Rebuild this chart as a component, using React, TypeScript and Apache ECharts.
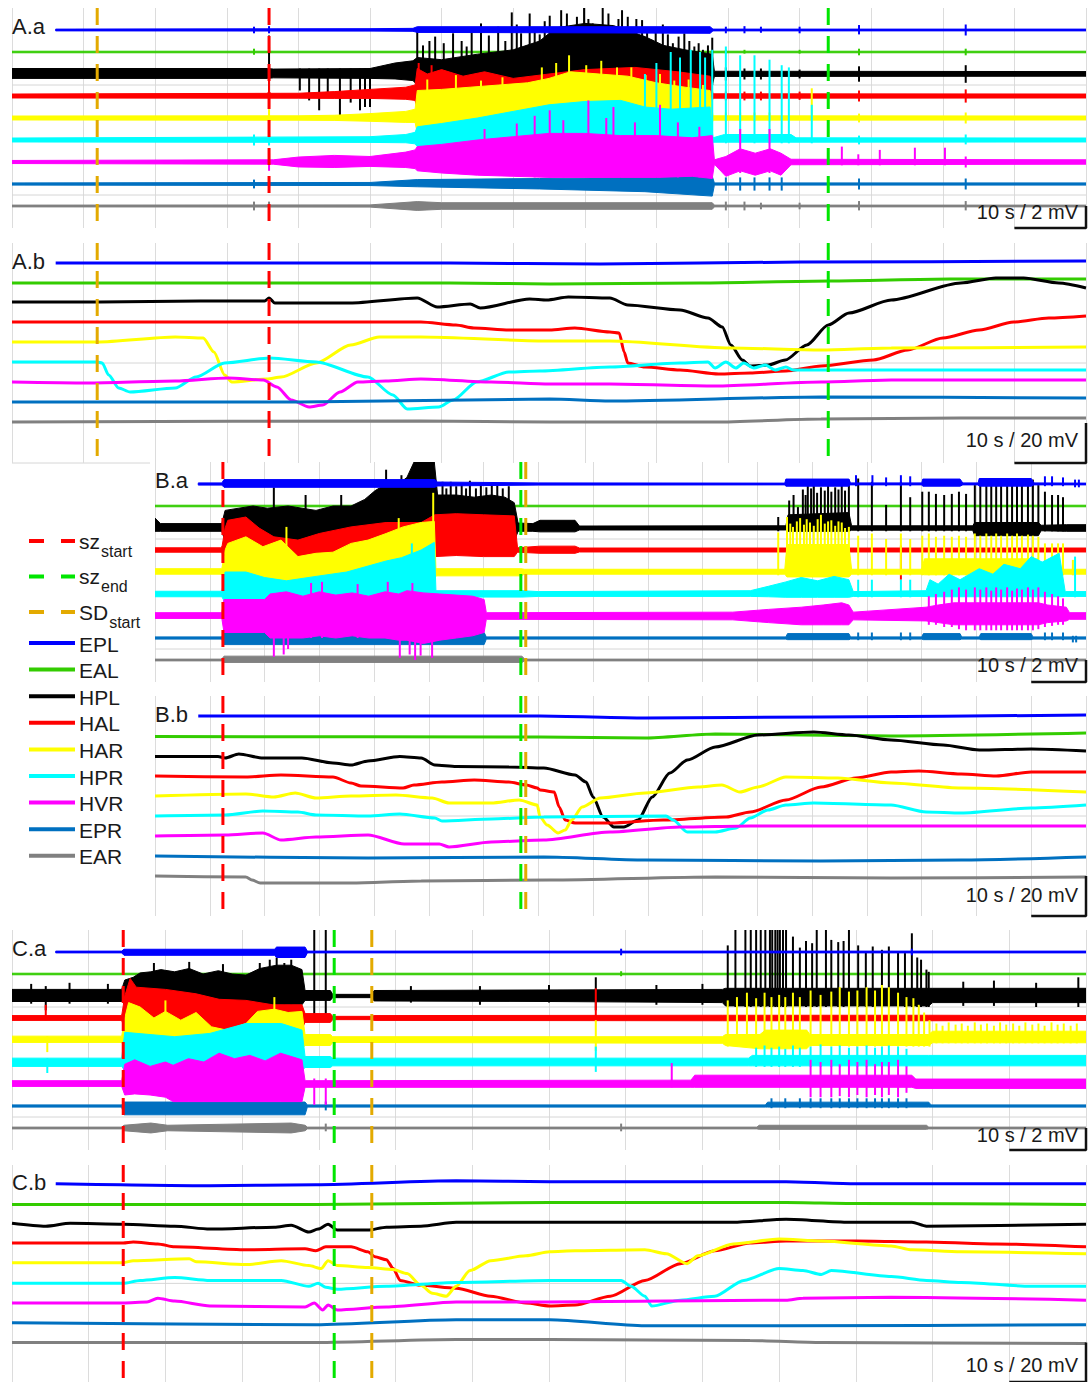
import React, { useEffect, useRef } from "react";
import * as echarts from "echarts";

// ---------------------------------------------------------------------------
// Channels (top to bottom) and their colours
// ---------------------------------------------------------------------------
const CHANNELS = ["EPL", "EAL", "HPL", "HAL", "HAR", "HPR", "HVR", "EPR", "EAR"];
const CHANNEL_COLORS = ["#0000ff", "#33cc00", "#000000", "#ff0000", "#ffff00", "#00ffff", "#ff00ff", "#0070c0", "#808080"];

// Event markers: seizure start, seizure end, spreading depolarisation start
const EVENT_MAIN = ["sz", "sz", "SD"];
const EVENT_SUB = ["start", "end", "start"];
const EVENT_COLORS = ["#ff0000", "#00e600", "#e3aa00"];

// event times in seconds: [sz start, sz end, SD start]
const A_EVENTS = [35.9, 114.0, 11.9];
const B_EVENTS = [12.4, 66.8, 67.7];
const C_EVENTS = [14.5, 42.0, 46.9];

// ---------------------------------------------------------------------------
// AC-coupled recordings: envelope rows [t (s), low (mV), high (mV)] relative to
// the channel baseline, plus single spikes [t, low, high]
// ---------------------------------------------------------------------------
// ---- A.a ----
const A_AC_EPL = [[6.1,-0.08,0.08],[50,-0.1,0.12],[56.0,-0.12,0.15],[56.6,-0.22,0.3],[75,-0.25,0.3],[97.5,-0.3,0.3],[97.9,-0.08,0.08],[150,-0.08,0.08]];
const A_AC_EPL_SPK = [[33.8,-0.3,0.3],[35.9,-0.3,0.35],[99.7,-0.3,0.3],[102.3,-0.3,0.35],[104.6,-0.25,0.3],[110.0,-0.3,0.3],[118.3,-0.4,0.45],[133.2,-0.5,0.5]];
const A_AC_EAL = [[0,-0.07,0.07],[150,-0.07,0.07]];
const A_AC_EAL_SPK = [[33.8,-0.25,0.3],[35.9,-0.2,0.5],[99.7,-0.15,0.2],[102.3,-0.15,0.2],[110.0,-0.15,0.2],[118.3,-0.3,0.3],[133.2,-0.3,0.3]];
const A_AC_HPL = [[0,-0.4,0.5],[35.7,-0.4,0.5],[36.5,-0.35,0.45],[50,-0.4,0.5],[53.5,-0.45,1.0],[56.0,-0.6,1.2],[56.6,-1,1.5],[60,-1,1.3],[65,-1,1.8],[70,-1,2.2],[73.7,-1,3.0],[76,-1,4.2],[80,-1,4.6],[84,-1,4.4],[88.4,-1,3.4],[91,-1,2.6],[94,-1,2.2],[97.8,-1,1.8],[98.1,-0.22,0.25],[150,-0.2,0.22]];
const A_AC_HPL_SPK = [[35.9,-2.0,3.5],[40.2,-1.5,0.5],[41.5,-2.4,0.5],[42.9,-3.3,0.5],[44.1,-2.1,0.5],[45.8,-3.9,0.5],[47.3,-2.6,0.5],[48.6,-3.3,0.5],[49.3,-3.0,0.5],[50.0,-3.0,0.5],
  [56.6,-1,4.0],[57.4,-1,2.6],[58.3,-1,3.0],[59.1,-1,3.4],[60.3,-1,2.8],[61.6,-1,3.7],[62.8,-1,3.0],[63.5,-1,2.5],[64.2,-1,4.0],[65.5,-1,4.6],[66.6,-1,3.5],[67.9,-1,4.3],[68.9,-1,3.0],[69.8,-1,5.6],[70.5,-1,4.5],[71.1,-1,3.7],[72.3,-1,5.5],[73.0,-1,4.0],[73.7,-1,3.6],[74.4,-1,4.8],[75.1,-1,5.3],[75.8,-1,4.2],[76.7,-1,5.8],[77.5,-1,5.5],[78.2,-1,4.4],[78.9,-1,5.2],[79.9,-1,6.0],[80.5,-1,5.0],[81.1,-1,4.6],[82.5,-1,6.0],[83.3,-1,5.5],[84.1,-1,4.3],[84.7,-1,5.0],[85.2,-1,5.8],[86.0,-1,5.2],[86.5,-1,4.0],[87.2,-1,5.0],[88.0,-1,4.9],[88.7,-1,4.2],[89.4,-1,3.1],[89.9,-1,4.0],[90.9,-1,4.5],[91.6,-1,3.6],[92.3,-1,2.8],[93.1,-1,3.4],[93.9,-1,3.7],[94.6,-1,3.0],[95.3,-1,2.5],[95.9,-1,2.8],[96.5,-1,2.2],[97.2,-1,2.6],[97.8,-1,3.3],
  [99.7,-0.6,0.6],[102.3,-0.5,0.5],[104.6,-0.5,0.5],[110.0,-0.4,0.4],[118.3,-0.7,0.7],[133.2,-0.8,0.8]];
const A_AC_HAL = [[0,-0.18,0.18],[40,-0.2,0.25],[45,-0.22,0.4],[50,-0.22,0.6],[55,-0.3,0.8],[56.3,-0.4,1.0],[56.6,-1.3,2.5],[58,-1.3,2.0],[60,-1.3,2.4],[63,-1.3,1.8],[66,-1.3,2.2],[70,-1.3,1.6],[75,-1.3,2.0],[80,-1.3,2.4],[87,-1.3,2.6],[93,-1.3,2.2],[97.5,-1.3,1.8],[97.9,-0.2,0.2],[150,-0.18,0.18]];
const A_AC_HAL_SPK = [[35.9,-1.0,2.0],[56.8,-1.3,3.0],[58.6,-1.3,2.8],[99.7,-0.4,0.4],[102.3,-0.4,0.4],[104.6,-0.4,0.4],[110.0,-0.35,0.4],[118.3,-0.5,0.5],[133.2,-0.6,0.6]];
const A_AC_HAR = [[0,-0.18,0.18],[40,-0.2,0.2],[45,-0.22,0.25],[50,-0.3,0.4],[55,-0.4,0.6],[56.3,-0.4,0.8],[56.6,-1.4,2.5],[60,-1.4,2.6],[64,-1.4,2.8],[68,-1.4,3.0],[72,-1.4,3.2],[75,-1.4,3.6],[78,-1.4,4.2],[82,-1.4,4.0],[86,-1.4,3.8],[90,-1.4,3.2],[94,-1.4,2.8],[97.5,-1.4,2.5],[97.9,-0.2,0.2],[150,-0.18,0.18]];
const A_AC_HAR_SPK = [[35.9,-0.5,0.8],[58,-1,3.5],[62,-1,3.9],[65.5,-1,3.4],[68.5,-1,3.7],[74,-1,4.6],[76,-1,5.0],[77.8,-1,5.7],[80.2,-1,4.8],[82.3,-1,5.2],[84.5,-1,4.6],[86.5,-1,4.6],[88.5,-1,3.9],[90.5,-1,4.0],[92.5,-1,3.4],[94.5,-1,3.5],[96.5,-1,3.0],[99.7,-0.3,0.5],[101.7,-0.3,0.5],[103.7,-0.3,0.5],[105.8,-0.3,0.5],[111.7,-0.3,2.7],[118.3,-0.4,0.4],[133.2,-0.5,0.5]];
const A_AC_HPR = [[0,-0.18,0.18],[50,-0.22,0.3],[55,-0.25,0.5],[56.3,-0.35,0.7],[56.6,-0.6,1.2],[60,-0.6,1.5],[65,-0.6,2.0],[70,-0.6,2.6],[75,-0.6,3.2],[80,-0.6,3.5],[85,-0.6,3.6],[88.4,-0.6,3.0],[92,-0.6,2.8],[97.5,-0.6,3.0],[97.9,-0.2,0.2],[99.5,-0.2,0.5],[108.8,-0.2,0.5],[109.5,-0.2,0.2],[150,-0.18,0.18]];
const A_AC_HPR_SPK = [[33.8,-0.5,0.5],[35.9,-0.5,0.6],[88.4,-0.6,6.0],[90.0,-0.6,7.0],[92.0,-0.6,8.0],[93.3,-0.6,7.5],[94.8,-0.6,8.2],[96.1,-0.6,8.0],[96.8,-0.6,7.5],[97.8,-0.6,8.2],[99.7,-0.3,8.5],[101.7,-0.3,7.7],[103.7,-0.3,7.7],[105.8,-0.3,7.3],[107.5,-0.3,6.8],[108.5,-0.3,6.6],[111.7,-0.3,3.2],[118.3,-0.4,0.4],[133.2,-0.4,0.5]];
const A_AC_HVR = [[0,-0.14,0.14],[36.5,-0.2,0.2],[40,-0.45,0.45],[45,-0.5,0.6],[50,-0.4,0.5],[55,-0.5,0.9],[56.3,-0.6,1.1],[56.6,-0.8,1.4],[60,-1.0,1.6],[65,-1.2,2.0],[70,-1.3,2.3],[75,-1.4,2.6],[80,-1.4,2.6],[85,-1.4,2.4],[90,-1.4,2.4],[95,-1.3,2.2],[97.8,-1.5,2.4],[98.1,-0.2,0.2],[99.7,-1.3,0.5],[101.7,-0.8,1.2],[103.8,-1.2,0.8],[105.9,-0.8,1.2],[107.4,-1.2,0.8],[108.8,-0.25,0.25],[150,-0.2,0.2]];
const A_AC_HVR_SPK = [[35.9,-0.8,0.8],[66,-1.2,3.0],[70.5,-1.3,3.5],[73,-1.4,4.2],[75.1,-1.4,4.7],[77,-1.4,3.8],[80.5,-1.4,5.6],[83,-1.4,4.0],[84,-1.4,5.0],[87,-1.4,3.6],[90.5,-1.4,5.2],[93,-1.4,3.6],[96,-1.4,3.2],[101.7,-1.0,3.0],[105.8,-1.0,3.0],[115.9,-0.3,1.4],[118.2,-0.3,0.7],[121.2,-0.3,1.1],[126.1,-0.3,1.3],[130.3,-0.3,1.3],[133.2,-0.5,0.5]];
const A_AC_EPR = [[0,-0.1,0.1],[50,-0.14,0.14],[56.6,-0.25,0.4],[73.7,-0.45,0.5],[88.4,-0.7,0.6],[97.8,-1.1,0.7],[98.1,-0.1,0.1],[150,-0.1,0.1]];
const A_AC_EPR_SPK = [[33.8,-0.4,0.4],[35.9,-0.4,0.4],[99.7,-0.6,0.6],[101.7,-0.6,0.6],[103.7,-0.6,0.6],[105.8,-0.6,0.6],[107.5,-0.6,0.6],[118.3,-0.5,0.5],[133.2,-0.5,0.5]];
const A_AC_EAR = [[0,-0.08,0.08],[50,-0.1,0.1],[56.6,-0.4,0.4],[60,-0.3,0.3],[97.8,-0.3,0.3],[98.1,-0.08,0.08],[150,-0.08,0.08]];
const A_AC_EAR_SPK = [[33.8,-0.4,0.4],[35.9,-0.4,0.4],[99.7,-0.4,0.4],[102.3,-0.4,0.4],[104.6,-0.3,0.3],[110.0,-0.3,0.3],[118.3,-0.4,0.45],[133.2,-0.4,0.45]];

// ---- B.a ----
const B_AC_EPL = [[7.9,-0.1,0.1],[12.2,-0.1,0.1],[12.6,-0.3,0.4],[51.1,-0.3,0.4],[51.6,-0.18,0.18],[70,-0.1,0.1],[115.0,-0.08,0.08],[115.2,-0.2,0.45],[126.7,-0.2,0.45],[127,-0.08,0.1],[140,-0.08,0.1],[140.2,-0.2,0.45],[147,-0.2,0.45],[147.5,-0.08,0.1],[150.3,-0.08,0.1],[150.5,-0.2,0.5],[160,-0.2,0.5],[160.5,-0.08,0.1],[170,-0.08,0.08]];
const B_AC_EPL_SPK = [[128.0,-0.2,0.8],[131.0,-0.2,0.8],[133.5,-0.2,0.6],[136.2,-0.2,0.8],[137.9,-0.2,0.7],[162.5,-0.2,0.7],[163.8,-0.2,0.7],[165.8,-0.2,0.6],[168.0,-0.3,0.4],[168.7,-0.3,0.4]];
const B_AC_EAL = [[0,-0.07,0.07],[170,-0.07,0.07]];
const B_AC_EAL_SPK = [];
const B_AC_HPL = [[0,-0.3,0.9],[1,-0.3,0.4],[12.2,-0.3,0.4],[12.8,-1.2,1.6],[15.3,-1.2,1.8],[17.9,-1.2,2.0],[20.5,-1.2,1.8],[24.3,-1.2,2.0],[29.4,-1.2,1.6],[32.5,-1.2,2.0],[35.8,-1.2,2.0],[38.3,-1.2,2.6],[40.2,-1.2,3.4],[42.2,-1.2,4.0],[44.0,-1.2,3.8],[46.0,-1.2,4.6],[47.3,-1.2,6.0],[51.0,-1.2,6.0],[51.6,-1.2,3.0],[55.0,-1.2,3.0],[58.3,-1.2,2.8],[61.4,-1.2,3.0],[63.9,-1.2,2.8],[65.6,-1.2,2.3],[66.3,-0.3,0.45],[69,-0.3,0.4],[70.3,-0.35,0.7],[76.7,-0.35,0.7],[77.5,-0.18,0.18],[115.2,-0.18,0.2],[115.6,-0.3,1.2],[126.7,-0.3,1.4],[127.2,-0.2,0.2],[149.3,-0.2,0.2],[149.7,-0.7,0.5],[161.3,-0.7,0.5],[161.8,-0.25,0.25],[166.4,-0.3,0.3],[170,-0.3,0.3]];
const B_AC_HPL_SPK = [[21.7,-1,3.7],[27.5,-1,3.0],[34,-1,3.0],[42.2,-1,5.3],[45,-1,4.8],[52.5,-1,4.2],[53.2,-1,3.6],[54,-1,4.2],[55,-1,3.8],[56,-1,4.0],[56.8,-1,3.6],[57.5,-1,4.3],[58.6,-1,3.6],[59.5,-1,4.0],[60.5,-1,3.7],[61.5,-1,3.9],[62.5,-1,4.0],[63.5,-1,3.6],[64.6,-1,3.8],
  [113.8,-0.3,1.0],[115.8,-0.3,2.5],[116.6,-0.3,3.0],[117.4,-0.3,1.9],[118.3,-0.3,3.5],[118.8,-0.3,3.0],[119.2,-0.3,4.4],[119.8,-0.3,3.6],[120.3,-0.3,4.4],[120.9,-0.3,3.2],[121.6,-0.3,3.7],[122.3,-0.3,3.4],[122.9,-0.3,4.0],[123.5,-0.3,3.3],[124.2,-0.3,3.7],[124.8,-0.3,3.5],[125.4,-0.3,4.0],[126.0,-0.3,3.4],[126.7,-0.3,4.4],
  [128.4,-0.3,4.5],[130.9,-0.3,4.2],[133.5,-0.3,2.1],[136.2,-0.3,4.2],[137.9,-0.3,2.8],[140.1,-0.3,3.3],[141.3,-0.3,3.3],[142.6,-0.3,3.1],[144.1,-0.3,3.0],[145.5,-0.3,3.1],[146.8,-0.3,3.3],[148.1,-0.3,3.1],[149.7,-0.5,3.9],[150.7,-0.5,4.2],[151.8,-0.5,4.1],[152.7,-0.5,4.4],[153.6,-0.5,4.2],[154.5,-0.5,4.4],[155.6,-0.5,4.5],[156.5,-0.5,4.4],[157.4,-0.5,4.5],[158.3,-0.5,4.4],[159.4,-0.5,4.2],[160.3,-0.5,4.4],[161.3,-0.5,3.9],[162.5,-0.3,3.3],[163.8,-0.3,3.0],[164.9,-0.3,3.0],[165.8,-0.3,2.8]];
const B_AC_HAL = [[0,-0.2,0.2],[12.2,-0.2,0.2],[12.8,-1.0,2.0],[13.3,-1.0,2.7],[16.6,-1.0,3.0],[19,-1.0,2.0],[21.7,-1.0,1.2],[26.1,-1.0,0.9],[30,-1.0,1.5],[35.8,-1.0,2.1],[42.2,-1.0,2.5],[48.6,-1.0,2.5],[51.1,-0.6,3.2],[55,-0.5,3.3],[60,-0.6,3.2],[65.6,-0.6,3.1],[66.2,-0.2,0.2],[70.3,-0.3,0.35],[76.7,-0.3,0.35],[77.5,-0.18,0.18],[170,-0.18,0.18]];
const B_AC_HAL_SPK = [[136.2,-2.7,0.4]];
const B_AC_HAR = [[0,-0.2,0.3],[12.2,-0.2,0.3],[12.8,-0.8,2.0],[13.3,-0.8,2.6],[16.6,-0.8,3.2],[19.7,-0.8,2.3],[23.0,-0.8,2.9],[26.1,-0.8,1.4],[29.4,-0.8,1.7],[32.5,-0.8,1.8],[35.8,-0.8,2.6],[38.9,-0.8,2.9],[42.2,-0.8,3.5],[45.3,-0.8,4.1],[48.6,-0.8,4.5],[51.0,-0.8,4.6],[51.3,-0.35,0.3],[66.8,-0.35,0.3],[67.5,-0.2,0.25],[115.0,-0.2,0.25],[115.4,-0.45,2.5],[126.7,-0.45,2.5],[127.2,-0.2,0.25],[140.0,-0.2,0.25],[140.5,-0.25,1.2],[161.3,-0.25,1.2],[161.8,-0.2,0.25],[170,-0.2,0.25]];
const B_AC_HAR_SPK = [[24.0,-0.8,4.1],[44.5,-0.8,4.9],[50.8,-0.8,7.2],[113.8,-0.3,3.6],
  [115.4,-0.4,5.0],[116.0,-0.4,4.4],[116.5,-0.4,4.1],[117.2,-0.4,4.6],[117.8,-0.4,4.9],[118.5,-0.4,4.3],[119.0,-0.4,4.8],[119.6,-0.4,4.5],[120.3,-0.4,4.2],[121.0,-0.4,4.8],[121.6,-0.4,5.2],[122.3,-0.4,4.4],[122.9,-0.4,4.6],[123.5,-0.4,4.7],[124.2,-0.4,4.2],[124.8,-0.4,4.6],[125.4,-0.4,4.5],[126.0,-0.4,4.0],[126.7,-0.4,4.1],
  [128.4,-0.3,3.3],[130.9,-0.3,3.5],[133.5,-0.3,3.0],[136.2,-0.3,3.5],[137.9,-0.3,3.0],[140.1,-0.3,3.3],[141.3,-0.3,3.5],[142.6,-0.3,3.2],[144.1,-0.3,3.3],[145.5,-0.3,3.2],[146.8,-0.3,3.3],[148.1,-0.3,3.2],[149.7,-0.3,3.5],[150.7,-0.3,3.3],[151.8,-0.3,3.5],[152.7,-0.3,3.3],[153.6,-0.3,3.5],[154.5,-0.3,3.3],[155.6,-0.3,3.5],[156.5,-0.3,3.3],[157.4,-0.3,3.5],[158.3,-0.3,3.3],[159.4,-0.3,3.4],[160.3,-0.3,3.3],[161.3,-0.3,3.2],[162.5,-0.3,2.6],[163.8,-0.3,2.6],[164.9,-0.3,2.6],[165.8,-0.3,2.6],[167.6,-0.3,1.1]];
const B_AC_HPR = [[0,-0.25,0.25],[12.2,-0.25,0.25],[12.8,-0.8,2.0],[16.6,-0.8,2.0],[20,-0.8,1.5],[24,-0.8,1.2],[29.4,-0.8,1.6],[35,-0.8,2.0],[42.2,-0.8,3.0],[45,-0.8,3.3],[48.6,-0.8,4.0],[51.0,-0.8,4.7],[51.3,-0.28,0.3],[67,-0.28,0.3],[70,-0.22,0.22],[108.7,-0.22,0.3],[112,-0.25,0.7],[115.2,-0.3,1.1],[118,-0.3,1.5],[121,-0.3,1.2],[124,-0.3,1.6],[126.7,-0.3,1.3],[127.5,-0.22,0.22],[140.8,-0.22,0.3],[141.5,-0.25,1.3],[143,-0.25,0.9],[145,-0.25,1.8],[147,-0.25,1.3],[150.5,-0.25,2.3],[153,-0.25,1.8],[155,-0.25,2.7],[158,-0.25,2.3],[160,-0.25,3.4],[162,-0.25,2.9],[165.1,-0.25,3.7],[166.2,-0.22,0.22],[170,-0.22,0.22]];
const B_AC_HPR_SPK = [[46.9,-0.8,4.6],[128.4,-0.3,1.3],[130.9,-0.3,1.3],[136.2,-0.3,1.3],[137.9,-0.3,1.3],[168.0,-0.3,3.4]];
const B_AC_HVR = [[0,-0.22,0.3],[12.2,-0.22,0.3],[12.6,-1.5,1.5],[20,-1.5,1.5],[21.0,-2.0,2.0],[24,-2.0,2.2],[27,-2.0,1.8],[30,-1.8,2.2],[33,-2.0,1.9],[36,-1.8,2.1],[39,-2.0,1.8],[42,-2.0,2.2],[44.5,-2.2,2.0],[46,-2.2,2.3],[49,-2.5,2.1],[52,-2.2,2.0],[55,-2.0,1.9],[58,-1.8,1.8],[60.1,-1.5,1.5],[60.5,-0.3,0.3],[105.5,-0.35,0.35],[112,-0.6,0.6],[118,-0.8,0.8],[122,-0.8,1.0],[125.4,-0.8,1.2],[126.7,-0.8,1.0],[127.5,-0.35,0.35],[140.8,-0.45,0.8],[143,-0.6,1.0],[145.9,-0.8,1.2],[161.3,-0.8,1.2],[163,-0.6,1.0],[166.4,-0.45,0.8],[167,-0.3,0.3],[170,-0.3,0.3]];
const B_AC_HVR_SPK = [[21.7,-3.7,2.0],[23.5,-3.5,2.0],[24.3,-3.0,2.0],[44.7,-3.8,2.0],[46.5,-3.5,2.0],[47.5,-4.0,2.0],[48.5,-3.6,2.0],[50.6,-3.8,2.0],[28.5,-2,3.0],[30.5,-2,3.1],[37,-2,2.9],[42.5,-2,3.1],[47,-2,3.0],
  [141.3,-0.8,1.8],[142.6,-0.8,2.0],[144.1,-1.0,2.2],[145.5,-1.0,2.4],[146.8,-1.2,2.6],[148.1,-1.3,2.4],[149.7,-1.3,2.6],[150.7,-1.3,2.4],[151.8,-1.3,2.6],[152.7,-1.3,2.3],[153.6,-1.3,2.6],[154.5,-1.3,2.4],[155.6,-1.3,2.6],[156.5,-1.3,2.3],[157.4,-1.3,2.5],[158.3,-1.3,2.4],[159.4,-1.3,2.6],[160.3,-1.3,2.4],[161.3,-1.2,2.6],[162.5,-1.0,2.2],[163.8,-0.9,2.0],[164.9,-0.8,1.8],[165.8,-0.8,1.6]];
const B_AC_EPR = [[0,-0.1,0.1],[12.2,-0.1,0.1],[12.6,-0.6,0.5],[60.1,-0.6,0.5],[60.5,-0.1,0.1],[115.2,-0.1,0.1],[115.5,-0.15,0.4],[126.7,-0.15,0.4],[127,-0.1,0.1],[140,-0.1,0.1],[140.3,-0.15,0.4],[147,-0.15,0.4],[147.3,-0.1,0.1],[150.5,-0.1,0.1],[150.8,-0.15,0.4],[160,-0.15,0.4],[160.3,-0.1,0.1],[170,-0.1,0.1]];
const B_AC_EPR_SPK = [[128.4,-0.2,0.5],[130.9,-0.2,0.5],[136.2,-0.2,0.5],[137.9,-0.2,0.5],[162.5,-0.2,0.5],[163.8,-0.2,0.5],[165.8,-0.2,0.5],[167.6,-0.4,0.2],[168.2,-0.4,0.2]];
const B_AC_EAR = [[0,-0.08,0.08],[12.2,-0.08,0.08],[12.6,-0.22,0.35],[67,-0.22,0.35],[67.5,-0.08,0.08],[170,-0.08,0.08]];
const B_AC_EAR_SPK = [];

// ---- C.a ----
const C_AC_EPL = [[5.7,-0.08,0.08],[14.3,-0.08,0.08],[14.6,-0.3,0.25],[34.2,-0.3,0.25],[34.5,-0.5,0.45],[38.2,-0.5,0.45],[38.5,-0.08,0.08],[140,-0.08,0.08]];
const C_AC_EPL_SPK = [[79.4,-0.3,0.3],[117.3,-0.3,0.3]];
const C_AC_EAL = [[0,-0.07,0.07],[140,-0.07,0.07]];
const C_AC_EAL_SPK = [[79.4,-0.2,0.25]];
const C_AC_HPL = [[0,-0.5,0.6],[14.3,-0.5,0.6],[14.7,-0.8,1.45],[15.8,-0.8,1.7],[16.7,-0.8,2.1],[18.1,-0.8,2.2],[19.4,-0.8,2.4],[21.2,-0.8,2.2],[23.1,-0.8,2.5],[24.9,-0.8,2.0],[26.9,-0.8,2.3],[28.7,-0.8,2.0],[30.5,-0.8,1.9],[32.3,-0.8,2.5],[34.5,-0.8,2.8],[36.4,-0.8,2.8],[37.8,-0.8,2.4],[38.2,-0.4,0.5],[41.5,-0.4,0.5],[41.8,-0.15,0.15],[46.9,-0.15,0.15],[47.2,-0.45,0.5],[70,-0.5,0.55],[92.6,-0.6,0.6],[93.0,-0.9,0.7],[119.5,-0.9,0.7],[120.0,-0.6,0.7],[140,-0.6,0.7]];
const C_AC_HPL_SPK = [[2.5,-0.7,1.1],[4.4,-1.3,0.9],[7.5,-0.7,1.2],[12.5,-0.7,1.1],[18.5,-0.8,3.0],[23.1,-0.8,3.1],[27.5,-0.8,2.9],[32.3,-0.8,3.0],[33.6,-0.8,3.3],[34.5,-0.8,3.5],[35.5,-0.8,3.0],[36.4,-0.8,3.3],[39.4,-2.0,6.5],[40.9,-2.0,6.5],
  [52,-0.6,0.9],[61,-0.8,0.9],[70,-0.6,1.0],[76.1,-1.3,1.7],[84,-0.8,1.0],[90,-0.8,1.1],
  [93.3,-1,4.6],[94.3,-1,6.2],[95.6,-1,6.2],[96.3,-1,6.2],[97.0,-1,6.2],[97.6,-1,6.2],[98.2,-1,6.2],[98.8,-1,6.2],[99.1,-1,6.0],[99.5,-1,6.2],[99.8,-1,6.2],[100.1,-1,6.2],[100.5,-1,6.0],[100.9,-1,6.2],[101.8,-1,5.4],[102.7,-1,4.4],[103.5,-1,5.0],[104.3,-1,4.8],[104.9,-1,6.2],[106.1,-1,6.2],[106.8,-1,5.1],[107.7,-1,4.9],[108.4,-1,5.0],[109.1,-1,6.2],[110.3,-1,4.6],[111.3,-1,4.0],[112.2,-1,4.5],[113.4,-1,4.2],[114.3,-1,4.5],[115.5,-1,4.0],[116.4,-1,3.9],[117.3,-1,5.7],[118.0,-1,3.5],[118.5,-1,3.3],[119.2,-1,2.4],[119.5,-1,2.2],
  [124,-0.9,1.3],[128,-0.9,1.4],[133.5,-1.0,1.2],[139.0,-1,1.7]];
const C_AC_HAL = [[0,-0.22,0.22],[14.3,-0.22,0.22],[14.7,-1.0,2.0],[15.4,-1.0,3.6],[16.2,-1.0,2.8],[20,-1.0,2.6],[24,-1.0,2.2],[27,-1.0,1.7],[30.5,-1.0,1.6],[34,-1.0,1.2],[37.8,-1.0,1.2],[38.2,-0.4,0.4],[41.5,-0.4,0.4],[41.8,-0.15,0.15],[46.9,-0.15,0.15],[47.2,-0.22,0.22],[92.6,-0.25,0.25],[119.5,-0.25,0.25],[140,-0.22,0.22]];
const C_AC_HAL_SPK = [[4.4,-0.2,1.2],[76.1,-0.3,2.7]];
const C_AC_HAR = [[0,-0.22,0.35],[14.3,-0.22,0.35],[14.7,-0.8,2.0],[15.2,-0.8,3.4],[16.7,-0.8,3.0],[18.5,-0.8,2.0],[20,-0.8,2.6],[22,-0.8,1.8],[24,-0.8,2.5],[26,-0.8,1.2],[28,-0.8,0.9],[30.5,-0.8,1.5],[32,-0.8,2.6],[34.2,-0.8,2.8],[36,-0.8,2.5],[37.8,-0.8,2.6],[38.2,-0.5,0.5],[41.5,-0.5,0.5],[41.8,-0.22,0.3],[92.6,-0.3,0.3],[93.0,-0.5,0.5],[97.5,-0.8,0.5],[98.2,-0.8,0.9],[103.6,-0.8,0.9],[104,-0.5,0.5],[119.5,-0.5,0.5],[120,-0.25,0.8],[140,-0.25,0.8]];
const C_AC_HAR_SPK = [[4.6,-1.1,0.35],[20,-0.8,3.6],[34.2,-0.8,3.9],[76.1,-1.0,1.8],
  [93.3,-0.6,3.6],[94.5,-0.6,3.9],[95.8,-0.6,4.3],[97.0,-0.6,3.8],[98.1,-0.6,4.3],[99.0,-0.6,3.9],[100.0,-0.6,4.1],[100.8,-0.6,3.9],[101.8,-0.6,4.3],[102.7,-0.6,3.9],[104.1,-0.6,4.5],[105.4,-0.6,4.1],[106.8,-0.6,4.4],[107.9,-0.6,4.8],[109.1,-0.6,4.4],[110.2,-0.6,4.5],[111.4,-0.6,4.8],[112.5,-0.6,4.5],[113.4,-0.6,5.0],[114.3,-0.6,4.8],[115.5,-0.6,4.3],[116.6,-0.6,3.9],[117.5,-0.6,3.8],[118.2,-0.6,3.2],[118.9,-0.6,2.5],[119.6,-0.6,1.8],
  [120.5,-0.3,1.5],[121.3,-0.3,1.3],[122.1,-0.3,1.6],[123.0,-0.3,1.4],[123.8,-0.3,1.5],[124.6,-0.3,1.3],[125.5,-0.3,1.6],[126.3,-0.3,1.4],[127.1,-0.3,1.5],[128.0,-0.3,1.3],[128.8,-0.3,1.6],[129.6,-0.3,1.4],[130.5,-0.3,1.5],[131.3,-0.3,1.3],[132.1,-0.3,1.6],[133.0,-0.3,1.4],[133.8,-0.3,1.5],[134.6,-0.3,1.3],[135.5,-0.3,1.6],[136.3,-0.3,1.4],[137.1,-0.3,1.5],[138.0,-0.3,1.3],[138.8,-0.3,1.5]];
const C_AC_HPR = [[0,-0.4,0.35],[14.3,-0.4,0.35],[14.7,-0.8,2.7],[21.2,-0.8,2.3],[25.8,-0.8,2.6],[30.5,-0.8,3.5],[35.1,-0.8,3.5],[37.8,-0.8,2.9],[38.2,-0.5,0.5],[41.5,-0.5,0.5],[41.8,-0.35,0.35],[96.0,-0.35,0.35],[96.5,-0.35,0.6],[119.5,-0.35,0.6],[140,-0.35,0.6]];
const C_AC_HPR_SPK = [[4.6,-1.0,0.35],[76.1,-0.9,1.4],[97.0,-0.45,1.3],[98.1,-0.45,1.5],[99.0,-0.45,1.3],[100.0,-0.45,1.4],[100.8,-0.45,1.2],[101.8,-0.45,1.5],[102.7,-0.45,1.3],[104.1,-0.45,1.4],[105.4,-0.45,1.6],[106.8,-0.45,1.4],[107.9,-0.45,1.5],[109.1,-0.45,1.3],[110.2,-0.45,1.4],[111.4,-0.45,1.5],[112.5,-0.45,1.3],[113.4,-0.45,1.4],[114.3,-0.45,1.5],[115.5,-0.45,1.4],[116.6,-0.45,1.2]];
const C_AC_HVR = [[0,-0.22,0.3],[14.3,-0.22,0.3],[14.7,-1.0,1.8],[16,-0.9,2.2],[18,-1.0,1.6],[20,-1.2,2.0],[21,-1.6,1.7],[23,-1.6,2.3],[25,-1.6,2.0],[27,-1.6,2.8],[29,-1.6,2.3],[31,-1.6,2.6],[33,-1.6,2.1],[35,-1.6,2.8],[37.8,-1.6,2.2],[38.2,-0.3,0.3],[88.5,-0.3,0.35],[89,-0.3,0.8],[117.3,-0.3,0.8],[117.8,-0.4,0.45],[140,-0.4,0.45]];
const C_AC_HVR_SPK = [[39.4,-1.9,0.5],[40.9,-1.9,0.5],[86.0,-0.3,1.9],[104.1,-1.2,2.2],[105.4,-1.2,2.0],[106.8,-1.2,2.2],[107.9,-1.1,1.8],[109.1,-1.2,2.2],[110.2,-1.0,2.0],[111.4,-1.2,2.2],[112.5,-1.0,1.8],[113.4,-1.2,2.0],[114.3,-1.0,2.0],[115.5,-1.2,2.2],[116.6,-0.8,1.6]];
const C_AC_EPR = [[0,-0.1,0.1],[14.3,-0.1,0.1],[14.6,-0.8,0.36],[38.2,-0.8,0.36],[38.5,-0.1,0.1],[98.2,-0.1,0.1],[98.5,-0.1,0.35],[119.5,-0.1,0.35],[119.8,-0.1,0.1],[140,-0.1,0.1]];
const C_AC_EPR_SPK = [[40.9,-0.4,0.4],[99.0,-0.2,0.7],[100.8,-0.2,0.7],[102.7,-0.2,0.7],[104.1,-0.2,0.7],[105.4,-0.2,0.7],[106.8,-0.2,0.7],[107.9,-0.2,0.7],[109.1,-0.2,0.7],[110.2,-0.2,0.7],[111.4,-0.2,0.7],[112.5,-0.2,0.7],[113.4,-0.2,0.7],[114.3,-0.2,0.7],[115.5,-0.2,0.7],[116.6,-0.2,0.7]];
const C_AC_EAR = [[0,-0.08,0.08],[14.3,-0.08,0.08],[14.6,-0.25,0.25],[18.1,-0.45,0.45],[20.3,-0.25,0.25],[36.4,-0.45,0.45],[38.2,-0.25,0.25],[38.5,-0.08,0.08],[97.1,-0.08,0.08],[97.4,-0.12,0.25],[119.2,-0.12,0.25],[119.5,-0.08,0.08],[140,-0.08,0.08]];
const C_AC_EAR_SPK = [[40.9,-0.3,0.4],[79.4,-0.3,0.4]];

// ---------------------------------------------------------------------------
// DC-coupled recordings: [t (s), deviation from channel baseline (mV)]
// ---------------------------------------------------------------------------
// ---- A.b ----
const A_DC_EPL = [[6.1,0],[61.2,0],[82.1,-0.5],[110.1,0.5],[150,1]];
const A_DC_EAL = [[0,0],[61.2,0],[75.1,-0.5],[96.1,0],[114.2,1],[131,2],[150,2]];
const A_DC_HPL = [[0,0.5],[12.3,0.5],[26.3,1],[35.3,1],[35.9,2.5],[36.7,0],[47.2,0],[56.6,2.5],[59.4,-2],[64.0,-0.5],[65.4,-2.5],[72.3,2],[74.7,1.5],[77.7,3],[83.5,2.5],[86.0,-1],[93.3,-3.5],[97.2,-7.5],[99.2,-12],[100.4,-21],[102.0,-28.5],[103.1,-31.5],[105.6,-31],[108.0,-28.5],[111.0,-21],[114.0,-11],[116.9,-5],[122.8,1.5],[132.5,10],[137.4,12.5],[141.3,12.5],[146.2,10],[150,7.5]];
const A_DC_HAL = [[0,0.5],[57.1,0.5],[62.0,-1],[64.5,-2.5],[69.4,-3.5],[75.1,-3.5],[78.6,-2.5],[83.5,-4.5],[84.8,-5],[85.5,-14.5],[86.0,-20],[88.4,-22],[93.3,-23.5],[98.7,-25.5],[103.1,-25],[108.1,-24],[113.0,-21.5],[120.3,-18.5],[125.1,-13.5],[130.0,-7.5],[135.1,-3.5],[139.9,0.5],[144.8,2.5],[150,3.5]];
const A_DC_HAR = [[0,0.5],[11.9,0.5],[22.8,3],[26.7,2.5],[28.2,-4.5],[29.7,-16],[30.7,-19.5],[35.6,-18],[37.6,-17],[42.5,-10],[47.3,-1],[51.3,3],[57.1,3],[75.1,1],[83.5,1],[100.3,-2.5],[113.0,-3.5],[122.8,-2.5],[150,-2]];
const A_DC_HPR = [[0,0.5],[11.9,0.5],[12.6,0],[13.5,-6],[14.9,-12.5],[16.5,-14.5],[22.8,-12.5],[25.7,-7],[29.7,0],[36.0,2.5],[42.5,0.5],[49.7,-7],[53.2,-16],[55.2,-23],[59.6,-22],[61.6,-18.5],[64.9,-9.5],[69.4,-4.5],[73.7,-4],[83.5,-2],[93.3,0],[97.2,0.5],[98.2,-2.5],[99.7,0.5],[101.1,-2.5],[102.2,0],[103.6,-2.5],[105.2,-1],[106.6,-3.5],[108.1,-2],[109.1,-3.5],[117.9,-3.5],[150,-3.5]];
const A_DC_HVR = [[0,0.5],[10.6,0],[22.8,1],[30.2,2.5],[35.1,1.5],[37.0,-2],[39.0,-8.5],[41.5,-12],[43.4,-11],[45.8,-4.5],[48.3,0.5],[52.2,1],[57.1,2],[66.9,0.5],[75.1,-0.5],[83.5,-0.5],[98.2,-1.5],[113.0,0.5],[122.8,1.5],[150,1.5]];
const A_DC_EPR = [[0,0.5],[40.2,0.5],[75.1,2],[83.5,1],[113.0,3],[150,2.5]];
const A_DC_EAR = [[0,0.5],[57.1,1],[75.1,0.5],[98.2,0.5],[113.0,2],[132.5,2.5],[150,2.5]];

// ---- B.b ----
const B_DC_EPL = [[7.9,0],[44.7,0],[70.3,0],[89.5,-1],[121.6,-0.5],[170,0.5]];
const B_DC_EAL = [[0,-0.3],[70.3,-0.5],[89.5,-1],[102.3,1],[134.4,0],[170,1.5]];
const B_DC_HPL = [[0,-0.3],[11.5,-0.3],[12.8,-1],[15.3,1],[19.7,-1],[26.8,-1],[32.5,-3.5],[35.8,-4.5],[38.9,-2.5],[44.7,-0.3],[48.6,-1],[51.1,-4.5],[55.0,-5.3],[64.6,-5.5],[71.0,-6],[76.7,-9.5],[78.7,-13],[80.0,-20.5],[81.8,-30.5],[83.8,-35.5],[85.6,-35.5],[88.2,-32],[90.8,-20.5],[94.0,-8.5],[97.2,-2],[102.3,4.5],[110.1,10.5],[120.3,12],[126.7,10.5],[134.4,8],[143.9,5.5],[150.5,3],[160.0,3.5],[170,2.5]];
const B_DC_HAL = [[0,0],[16.6,-0.5],[23.0,0.5],[32.5,-0.5],[35.8,-3.5],[37.6,-5],[45.3,-6],[47.3,-4.5],[52.4,-3],[58.3,-2],[64.6,-3],[67.8,-4.5],[69.8,-6],[70.3,-7],[72.9,-8],[73.8,-15.5],[74.9,-22],[76.7,-23.5],[83.1,-23.5],[92.8,-22],[104.3,-20.5],[108.7,-18],[115.2,-12],[121.6,-5.5],[128.0,-1],[134.4,2],[139.5,2.5],[147.2,1],[153.6,0],[160.0,2],[170,2]];
const B_DC_HAR = [[0,0],[16.6,1],[21.7,-0.5],[25.6,1.5],[29.4,-1],[35.8,0],[44.0,0.5],[50.6,-1],[53.7,-3.5],[61.4,-3.5],[66.5,-2],[69.8,-4.5],[70.3,-10.5],[71.6,-14.5],[73.6,-18.5],[74.9,-17],[76.1,-12],[78.0,-5.5],[81.3,-1],[89.5,1.5],[99.2,4.5],[103.5,5.5],[106.8,2],[110.1,4.5],[115.2,9.5],[124.7,9],[134.4,6.5],[147.2,4],[170,2]];
const B_DC_HPR = [[0,0],[12.8,0.5],[19.7,2.5],[26.1,2],[29.4,0.5],[38.9,0],[44.7,1],[51.1,-1],[52.4,-2.5],[61.4,-1.5],[71.0,-0.5],[93.3,0],[94.6,-2],[97.2,-8],[102.3,-8],[106.1,-6],[108.7,-1],[111.9,3],[115.2,5.5],[120.3,6.5],[134.4,5.5],[140.8,2],[147.2,1.5],[160.0,4],[170,5.5]];
const B_DC_HVR = [[0,0],[12.8,0.5],[19.7,1.5],[23.0,-2],[29.4,-0.5],[38.9,0.5],[45.5,-4],[51.9,-4],[53.7,-5.5],[61.4,-3],[71.0,-2],[83.1,2],[95.9,4.5],[108.7,5],[170,5]];
const B_DC_EPR = [[0,0],[38.9,-1],[71.0,-0.5],[89.5,-2],[121.6,-2.5],[147.2,-2],[170,-0.5]];
const B_DC_EAR = [[0,0],[16.6,-0.5],[17.7,-2],[19.2,-3.5],[35.8,-3.5],[48.6,-2.5],[72.1,-2],[102.3,-0.5],[134.4,-1],[170,-0.5]];

// ---- C.b ----
const C_DC_EPL = [[5.7,0.5],[25.8,-0.5],[39.6,0],[57.9,2],[70.1,1.5],[100.9,1.5],[110.0,0.5],[140,0.5]];
const C_DC_EAL = [[0,0],[39.6,0],[70.1,1],[100.9,1],[110.0,0.5],[140,0]];
const C_DC_HPL = [[0,0.5],[4.4,-1],[7.6,0.5],[14.5,0],[21.2,-1],[25.8,-2.5],[34.2,-1.5],[36.4,-0.5],[38.7,-4],[39.9,-2.5],[41.2,0],[42.4,-3],[46.4,-3],[48.8,-1.5],[53.3,-1],[57.9,1],[94.0,1],[100.9,2.5],[109.1,1],[117.3,1],[119.2,-1],[140,0]];
const C_DC_HAL = [[0,0.5],[14.5,0.5],[15.8,1],[19.0,0],[21.2,-1.5],[30.5,-3],[38.2,-2.5],[39.6,-3.5],[40.9,-1.5],[44.2,-1.5],[46.4,-4],[47.3,-6.5],[48.8,-8],[49.7,-12.5],[50.6,-18.5],[53.3,-21],[57.9,-22.5],[62.4,-26.5],[67.0,-30],[70.1,-31.5],[73.4,-31],[78.0,-26.5],[82.5,-18.5],[87.1,-10],[91.6,-3.5],[96.2,0.5],[100.9,1.5],[110.0,1.5],[119.2,1],[128.3,0],[140,-1.5]];
const C_DC_HAR = [[0,0.5],[14.5,0.5],[15.8,1.5],[23.1,2.5],[24.0,1],[30.5,-0.5],[35.1,1.5],[38.7,-1],[40.3,-2.5],[41.2,1.5],[42.4,-1],[46.4,-2],[49.7,-3],[51.5,-5],[53.3,-11],[54.8,-15],[56.6,-16.5],[57.9,-11.5],[59.7,-3.5],[62.4,1.5],[67.0,4],[70.1,6],[73.4,6.5],[82.5,7],[85.3,5],[88.0,0],[89.4,4],[94.0,10],[100.0,12.5],[105.5,11.5],[114.6,9],[117.3,7],[123.7,6],[140,5]];
const C_DC_HPR = [[0,0],[14.5,0],[16.7,1.5],[21.2,3],[25.8,1.5],[35.1,1.5],[38.7,-1.5],[39.9,0],[40.9,-2],[42.4,-3],[48.8,-1.5],[57.9,0.5],[70.1,1.5],[79.4,1.5],[80.7,-1.5],[82.5,-6.5],[83.4,-11.5],[87.1,-8.5],[91.6,-6.5],[95.4,1.5],[100.0,7.5],[103.1,6.5],[105.5,4.5],[106.8,6.5],[114.6,3.5],[119.2,1.5],[123.7,0.5],[132.8,-1.5],[140,-1.5]];
const C_DC_HVR = [[0,0],[14.5,0],[17.6,0.5],[19.0,2.5],[21.2,1],[25.8,-1.5],[38.2,-2],[39.4,0],[40.5,-3.5],[41.2,-1],[42.4,-3.5],[48.8,-2],[57.9,0.5],[70.1,0.5],[100.9,1.5],[103.1,2.5],[114.6,3],[140,1.5]];
const C_DC_EPR = [[0,0],[39.6,-1],[57.9,1.5],[70.1,1.5],[82.5,-1.5],[100.9,-1.5],[140,-1]];
const C_DC_EAR = [[0,0],[39.6,0],[57.9,1.5],[70.1,1.5],[96.2,1],[105.5,0],[140,-0.5]];

// ---------------------------------------------------------------------------
// Panel layout
// ---------------------------------------------------------------------------
const FONT = '"Liberation Sans", Arial, Helvetica, sans-serif';
const AC_STEP = 2;   // mV between AC channel baselines
const DC_STEP = 10;  // mV between DC channel baselines
const AC_RANGE = 20;
const DC_RANGE = 110;
const AC_GUIDES = [-7, -17];
const DC_GUIDES = [-60];
const AC_DRAW_ORDER = [1, 2, 3, 4, 5, 7, 8, 6, 0];
const DC_DRAW_ORDER = [0, 1, 2, 3, 4, 5, 6, 7, 8];

const PANELS = [
  { label: "A.a", kind: "ac", left: 12, top: 8, width: 1074, height: 220, tMax: 150, events: A_EVENTS, labelY: 26, scaleText: "10 s / 2 mV", scaleY: 212,
    traces: [A_AC_EPL, A_AC_EAL, A_AC_HPL, A_AC_HAL, A_AC_HAR, A_AC_HPR, A_AC_HVR, A_AC_EPR, A_AC_EAR],
    spikes: [A_AC_EPL_SPK, A_AC_EAL_SPK, A_AC_HPL_SPK, A_AC_HAL_SPK, A_AC_HAR_SPK, A_AC_HPR_SPK, A_AC_HVR_SPK, A_AC_EPR_SPK, A_AC_EAR_SPK] },
  { label: "A.b", kind: "dc", left: 12, top: 243, width: 1074, height: 220, tMax: 150, events: A_EVENTS, labelY: 261, scaleText: "10 s / 20 mV", scaleY: 440,
    traces: [A_DC_EPL, A_DC_EAL, A_DC_HPL, A_DC_HAL, A_DC_HAR, A_DC_HPR, A_DC_HVR, A_DC_EPR, A_DC_EAR] },
  { label: "B.a", kind: "ac", left: 155, top: 462, width: 931, height: 220, tMax: 170, events: B_EVENTS, labelY: 480, scaleText: "10 s / 2 mV", scaleY: 665,
    traces: [B_AC_EPL, B_AC_EAL, B_AC_HPL, B_AC_HAL, B_AC_HAR, B_AC_HPR, B_AC_HVR, B_AC_EPR, B_AC_EAR],
    spikes: [B_AC_EPL_SPK, B_AC_EAL_SPK, B_AC_HPL_SPK, B_AC_HAL_SPK, B_AC_HAR_SPK, B_AC_HPR_SPK, B_AC_HVR_SPK, B_AC_EPR_SPK, B_AC_EAR_SPK] },
  { label: "B.b", kind: "dc", left: 155, top: 696, width: 931, height: 220, tMax: 170, events: B_EVENTS, labelY: 714, scaleText: "10 s / 20 mV", scaleY: 895,
    traces: [B_DC_EPL, B_DC_EAL, B_DC_HPL, B_DC_HAL, B_DC_HAR, B_DC_HPR, B_DC_HVR, B_DC_EPR, B_DC_EAR] },
  { label: "C.a", kind: "ac", left: 12, top: 930, width: 1074, height: 220, tMax: 140, events: C_EVENTS, labelY: 948, scaleText: "10 s / 2 mV", scaleY: 1135,
    traces: [C_AC_EPL, C_AC_EAL, C_AC_HPL, C_AC_HAL, C_AC_HAR, C_AC_HPR, C_AC_HVR, C_AC_EPR, C_AC_EAR],
    spikes: [C_AC_EPL_SPK, C_AC_EAL_SPK, C_AC_HPL_SPK, C_AC_HAL_SPK, C_AC_HAR_SPK, C_AC_HPR_SPK, C_AC_HVR_SPK, C_AC_EPR_SPK, C_AC_EAR_SPK] },
  { label: "C.b", kind: "dc", left: 12, top: 1165, width: 1074, height: 220, tMax: 140, events: C_EVENTS, labelY: 1182, scaleText: "10 s / 20 mV", scaleY: 1365,
    traces: [C_DC_EPL, C_DC_EAL, C_DC_HPL, C_DC_HAL, C_DC_HAR, C_DC_HPR, C_DC_HVR, C_DC_EPR, C_DC_EAR] },
];

// ---------------------------------------------------------------------------
// Series builders
// ---------------------------------------------------------------------------
function bandSeries(g: number, rows: number[][], base: number, color: string) {
  const abs = rows.map((r) => [r[0], base + r[1], base + r[2]]);
  return {
    type: "custom", xAxisIndex: g, yAxisIndex: g, clip: true, silent: true,
    data: abs,
    renderItem: (params: any, api: any) => {
      if (params.dataIndex !== 0) return null;
      const top = abs.map((r) => api.coord([r[0], r[2]]));
      const bottom = abs.slice().reverse().map((r) => api.coord([r[0], r[1]]));
      return { type: "polygon", shape: { points: top.concat(bottom) }, style: { fill: color, stroke: color, lineWidth: 1 } };
    },
  };
}

function spikeSeries(g: number, rows: number[][], base: number, color: string) {
  return {
    type: "custom", xAxisIndex: g, yAxisIndex: g, clip: true, silent: true,
    data: rows.map((r) => [r[0], base + r[1], base + r[2]]),
    renderItem: (params: any, api: any) => {
      const a = api.coord([api.value(0), api.value(1)]);
      const b = api.coord([api.value(0), api.value(2)]);
      return { type: "line", shape: { x1: a[0], y1: a[1], x2: b[0], y2: b[1] }, style: { stroke: color, lineWidth: 2 } };
    },
  };
}

function dcSeries(g: number, rows: number[][], base: number, color: string) {
  return {
    type: "line", xAxisIndex: g, yAxisIndex: g, silent: true, symbol: "none", showSymbol: false,
    smooth: 0.25, smoothMonotone: "x",
    data: rows.map((r) => [r[0], base + r[1]]),
    lineStyle: { color, width: 3 },
  };
}

function guideSeries(g: number, ys: number[], tMax: number) {
  return {
    type: "custom", xAxisIndex: g, yAxisIndex: g, silent: true,
    data: ys.map((y) => [0, y]),
    renderItem: (params: any, api: any) => {
      const a = api.coord([0, api.value(1)]);
      const b = api.coord([tMax, api.value(1)]);
      return { type: "line", shape: { x1: a[0], y1: a[1], x2: b[0], y2: b[1] }, style: { stroke: "#d6d6d6", lineWidth: 1 } };
    },
  };
}

function eventSeries(g: number, events: number[], yMin: number) {
  return {
    type: "custom", xAxisIndex: g, yAxisIndex: g, silent: true, z: 20,
    data: events.map((t, i) => [t, 0, i]),
    renderItem: (params: any, api: any) => {
      const a = api.coord([api.value(0), 0]);
      const b = api.coord([api.value(0), yMin]);
      return { type: "line", shape: { x1: a[0], y1: a[1], x2: b[0], y2: b[1] }, style: { stroke: EVENT_COLORS[api.value(2)], lineWidth: 3, lineDash: [17, 11] } };
    },
  };
}

function scaleBarSeries(g: number, tMax: number, yMin: number, bar: number) {
  return {
    type: "line", xAxisIndex: g, yAxisIndex: g, silent: true, symbol: "none", clip: false, z: 25,
    data: [[tMax - 10, yMin], [tMax, yMin], [tMax, yMin + bar]],
    lineStyle: { color: "#111111", width: 2.5 },
  };
}

function measure(text: string, font: string) {
  const ctx = document.createElement("canvas").getContext("2d");
  if (!ctx) return text.length * 10;
  ctx.font = font;
  return ctx.measureText(text).width;
}

function buildOption() {
  const grid: any[] = [];
  const xAxis: any[] = [];
  const yAxis: any[] = [];
  const series: any[] = [];
  const graphic: any[] = [];

  PANELS.forEach((p, g) => {
    const ac = p.kind === "ac";
    const range = ac ? AC_RANGE : DC_RANGE;
    const step = ac ? AC_STEP : DC_STEP;
    grid.push({ left: p.left, top: p.top, width: p.width, height: p.height, show: false });
    xAxis.push({
      type: "value", gridIndex: g, min: 0, max: p.tMax, interval: 10,
      axisLine: { show: false }, axisTick: { show: false }, axisLabel: { show: false },
      splitLine: { show: true, lineStyle: { color: "#dcdcdc", width: 1 } },
    });
    yAxis.push({ type: "value", gridIndex: g, min: -range, max: 0, show: false });

    series.push(guideSeries(g, ac ? AC_GUIDES : DC_GUIDES, p.tMax));

    if (ac) {
      AC_DRAW_ORDER.forEach((ch) => {
        const base = -step * (ch + 1);
        series.push(bandSeries(g, p.traces[ch], base, CHANNEL_COLORS[ch]));
        series.push(spikeSeries(g, (p as any).spikes[ch], base, CHANNEL_COLORS[ch]));
      });
    } else {
      DC_DRAW_ORDER.forEach((ch) => {
        const base = -step * (ch + 1);
        series.push(dcSeries(g, p.traces[ch], base, CHANNEL_COLORS[ch]));
      });
    }

    series.push(eventSeries(g, p.events, -range));
    series.push(scaleBarSeries(g, p.tMax, -range, ac ? 2 : 20));

    graphic.push({
      type: "text", x: p.left, y: p.labelY, z: 30,
      style: { text: p.label, fill: "#1a1a1a", font: `22px ${FONT}`, textAlign: "left", textVerticalAlign: "middle" },
    });
    graphic.push({
      type: "text", x: 1078, y: p.scaleY, z: 30,
      style: { text: p.scaleText, fill: "#1a1a1a", font: `20px ${FONT}`, textAlign: "right", textVerticalAlign: "middle" },
    });
  });

  // bottom edge of A.b left of the B panels
  graphic.push({ type: "line", shape: { x1: 12, y1: 463, x2: 150, y2: 463 }, style: { stroke: "#d6d6d6", lineWidth: 1 } });

  // legend
  const mainFont = `21px ${FONT}`;
  const subFont = `16px ${FONT}`;
  EVENT_MAIN.forEach((m, i) => {
    const y = 541 + i * 35.5;
    graphic.push({ type: "line", shape: { x1: 29, y1: y, x2: 75, y2: y }, style: { stroke: EVENT_COLORS[i], lineWidth: 4, lineDash: [15, 17] } });
    graphic.push({ type: "text", x: 79, y: y, style: { text: m, fill: "#1a1a1a", font: mainFont, textAlign: "left", textVerticalAlign: "middle" } });
    graphic.push({ type: "text", x: 79 + measure(m, mainFont) + 1, y: y + 10, style: { text: EVENT_SUB[i], fill: "#1a1a1a", font: subFont, textAlign: "left", textVerticalAlign: "middle" } });
  });
  CHANNELS.forEach((name, i) => {
    const y = 643 + i * 26.6;
    graphic.push({ type: "line", shape: { x1: 29, y1: y, x2: 75, y2: y }, style: { stroke: CHANNEL_COLORS[i], lineWidth: 4 } });
    graphic.push({ type: "text", x: 79, y: y + 1, style: { text: name, fill: "#1a1a1a", font: mainFont, textAlign: "left", textVerticalAlign: "middle" } });
  });

  return { animation: false, backgroundColor: "#ffffff", grid, xAxis, yAxis, series, graphic };
}

export default function App() {
  const ref = useRef<HTMLDivElement>(null);
  useEffect(() => {
    if (!ref.current) return;
    const chart = echarts.init(ref.current, null, { renderer: "svg" });
    chart.setOption(buildOption() as any);
    return () => chart.dispose();
  }, []);
  return <div ref={ref} style={{ position: "absolute", left: 0, top: 0, width: 1089, height: 1382, background: "#ffffff" }} />;
}
